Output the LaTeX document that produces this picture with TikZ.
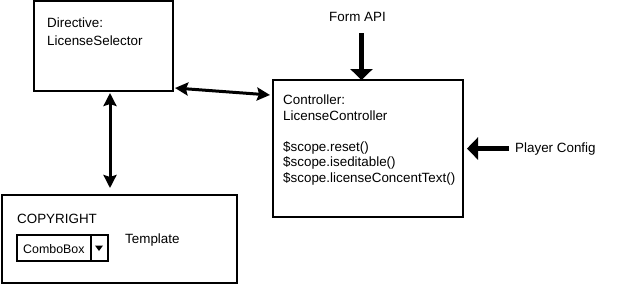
\documentclass[tikz,border=0pt]{standalone}
\usepackage{fontspec}
\setmainfont{Liberation Sans}
\usetikzlibrary{arrows.meta}
\begin{document}
\begin{tikzpicture}[x=1pt,y=-1pt,
  box/.style={draw,line width=2pt,anchor=north west,outer sep=0pt,inner sep=0pt},
  label/.style={anchor=base west,inner sep=0pt,font=\fontsize{13.4}{15}\selectfont},
  feed/.style={line width=5pt,-{Triangle[length=11pt,width=22pt]}},
  link/.style={line width=3pt,{Stealth[length=13pt,width=13pt,inset=2pt]}-{Stealth[length=13pt,width=13pt,inset=2pt]}}]
\useasboundingbox (0,0) rectangle (630,287);

% directive box
\node[box,minimum width=139pt,minimum height=90pt] (dir) at (34,1) {};
\node[label] (dirA) at (47,27) {Directive:};
\node[label] (dirB) at (47,45) {LicenseSelector};

% controller box
\node[box,minimum width=190pt,minimum height=137pt] (ctrl) at (273,80) {};
\node[label] (c1) at (283,104) {Controller:};
\node[label] (c2) at (283,120) {LicenseController};
\node[label] (c3) at (283,151) {\$scope.reset()};
\node[label] (c4) at (283,166.5) {\$scope.iseditable()};
\node[label] (c5) at (283,182) {\$scope.licenseConcentText()};

% template box with combo box
\node[box,minimum width=235pt,minimum height=88pt] (tmpl) at (2,195) {};
\node[label] (copy) at (17,223) {COPYRIGHT};
\node[box,line width=1.5pt,minimum width=91pt,minimum height=26pt] (combo) at (17,235) {};
\draw[line width=1.5pt] ([xshift=74pt]combo.north west) -- ([xshift=74pt]combo.south west);
\node[label,font=\fontsize{12.4}{15}\selectfont] (combotext) at (23,253) {ComboBox};
\fill (95,245.5) -- (103,245.5) -- (99,251) -- cycle;
\node[label] (tpl) at (125,243) {Template};

% external inputs
\node[label] (api) at (329,21) {Form API};
\node[label] (player) at (515,152) {Player Config};
\coordinate (apiout) at ([xshift=4pt,yshift=-12pt]api.south);
\coordinate (playerout) at ([xshift=-6pt]player.west);

% connectors
\draw[feed] (apiout) -- (apiout |- ctrl.north);
\draw[feed] (playerout) -- ([xshift=4pt]ctrl.east |- playerout);
\draw[link] ([xshift=2pt,yshift=3pt]dir.south east) -- ([xshift=-3pt,yshift=-15pt]ctrl.north west);
\draw[link] ([xshift=6.5pt,yshift=-2pt]dir.south) -- ([xshift=-9.5pt,yshift=7pt]tmpl.north);
\end{tikzpicture}
\end{document}
